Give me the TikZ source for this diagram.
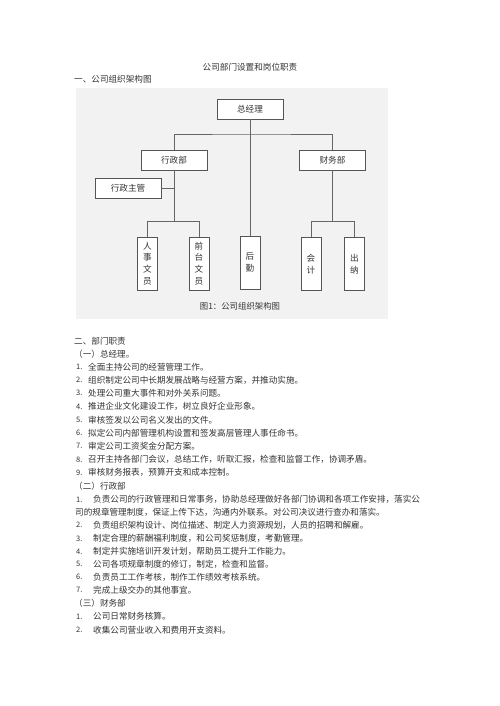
\documentclass[tikz,border=0pt]{standalone}
\usepackage{fontspec}
\setmainfont{Noto Sans CJK SC}
\definecolor{txt}{HTML}{333333}
\definecolor{bg}{HTML}{F2F2F2}
\definecolor{ln}{HTML}{666666}
\definecolor{bd}{HTML}{555555}
\tikzset{
  hbox/.style={draw=bd, line width=0.9pt, fill=white, minimum width=66pt, minimum height=20pt, inner sep=0pt, text=txt, font=\fontsize{8.6}{10}\selectfont},
  vbox/.style={draw=bd, line width=0.9pt, fill=white, minimum width=20pt, minimum height=53pt, inner sep=0pt, text=txt, align=center, font=\fontsize{8.6}{11.7}\selectfont},
  conn/.style={draw=ln, line width=0.8pt},
  line/.style={anchor=west, inner sep=0pt, text=txt, font=\fontsize{8.6}{10}\selectfont},
  num/.style={anchor=west, inner sep=0pt, text=txt, font=\fontsize{7.5}{10}\selectfont},
}
\begin{document}
\begin{tikzpicture}[x=1pt,y=-1pt]
\useasboundingbox (0,0) rectangle (500,706);
\fill[white] (0,0) rectangle (500,706);
\node[line, anchor=center] (title) at (250,67) {公司部门设置和岗位职责};
\node[line] (h1) at (74,79) {一、公司组织架构图};
\fill[bg] (76,88) rectangle (388,319);
% boxes
\node[hbox] (zjl) at (250,109) {总经理};
\node[hbox] (xzb) at (174,160) {行政部};
\node[hbox] (cwb) at (332.5,160) {财务部};
\node[hbox] (xzzg) at (128,188) {行政主管};
\node[vbox] (rs) at (147.5,263.5) {人\\事\\文\\员};
\node[vbox] (qt) at (199,263.5) {前\\台\\文\\员};
\node[vbox] (hq) at (250,262.5) {后\\勤};
\node[vbox] (kj) at (311,264) {会\\计};
\node[vbox] (cn) at (354.5,264) {出\\纳};
\node[line, anchor=center, font=\fontsize{8.4}{10}\selectfont] (cap) at (240,306.7) {图1：公司组织架构图};
% connectors
\coordinate (jt) at (250,134);
\coordinate (jx) at (174,221.5);
\coordinate (jc) at (332.5,221.5);
\draw[conn] (zjl.south) -- (hq.north);
\draw[conn] (xzb.north) |- (jt) -| (cwb.north);
\draw[conn] (xzzg.east) -- (xzzg.east -| xzb.south);
\draw[conn] (xzb.south) -- (jx);
\draw[conn] (rs.north) |- (jx) -| (qt.north);
\draw[conn] (cwb.south) -- (jc);
\draw[conn] (kj.north) |- (jc) -| (cn.north);
% section 2
\node[line] (h2) at (74,341.7) {二、部门职责};
\node[line] (s1) at (74,354) {（一）总经理。};
\node[num] (a1n) at (76,366.7) {1.}; \node[line] (a1) at (88,366.7) {全面主持公司的经营管理工作。};
\node[num] (a2n) at (76,380.3) {2.}; \node[line] (a2) at (88,380.3) {组织制定公司中长期发展战略与经营方案，并推动实施。};
\node[num] (a3n) at (76,393.3) {3.}; \node[line] (a3) at (88,393.3) {处理公司重大事件和对外关系问题。};
\node[num] (a4n) at (76,406.7) {4.}; \node[line] (a4) at (88,406.7) {推进企业文化建设工作，树立良好企业形象。};
\node[num] (a5n) at (76,420) {5.}; \node[line] (a5) at (88,420) {审核签发以公司名义发出的文件。};
\node[num] (a6n) at (76,433.2) {6.}; \node[line] (a6) at (88,433.2) {拟定公司内部管理机构设置和签发高层管理人事任命书。};
\node[num] (a7n) at (76,446.3) {7.}; \node[line] (a7) at (88,446.3) {审定公司工资奖金分配方案。};
\node[num] (a8n) at (76,459.7) {8.}; \node[line] (a8) at (88,459.7) {召开主持各部门会议，总结工作，听取汇报，检查和监督工作，协调矛盾。};
\node[num] (a9n) at (76,472.8) {9.}; \node[line] (a9) at (88,472.8) {审核财务报表，预算开支和成本控制。};
\node[line] (s2) at (74,486) {（二）行政部};
\node[num] (b1n) at (76,499.7) {1.}; \node[line] (b1) at (93,499.7) {负责公司的行政管理和日常事务，协助总经理做好各部门协调和各项工作安排，落实公};
\node[line] (b1b) at (75,512.7) {司的规章管理制度，保证上传下达，沟通内外联系。对公司决议进行查办和落实。};
\node[num] (b2n) at (76,525.3) {2.}; \node[line] (b2) at (93,525.3) {负责组织架构设计、岗位描述、制定人力资源规划，人员的招聘和解雇。};
\node[num] (b3n) at (76,538.5) {3.}; \node[line] (b3) at (93,538.5) {制定合理的薪酬福利制度，和公司奖惩制度，考勤管理。};
\node[num] (b4n) at (76,551.7) {4.}; \node[line] (b4) at (93,551.7) {制定并实施培训开发计划，帮助员工提升工作能力。};
\node[num] (b5n) at (76,564.3) {5.}; \node[line] (b5) at (93,564.3) {公司各项规章制度的修订，制定，检查和监督。};
\node[num] (b6n) at (76,577.3) {6.}; \node[line] (b6) at (93,577.3) {负责员工工作考核，制作工作绩效考核系统。};
\node[num] (b7n) at (76,590) {7.}; \node[line] (b7) at (93,590) {完成上级交办的其他事宜。};
\node[line] (s3) at (74,603.3) {（三）财务部};
\node[num] (c1n) at (76,616.7) {1.}; \node[line] (c1) at (93,616.7) {公司日常财务核算。};
\node[num] (c2n) at (76,630) {2.}; \node[line] (c2) at (93,630) {收集公司营业收入和费用开支资料。};
\end{tikzpicture}
\end{document}
